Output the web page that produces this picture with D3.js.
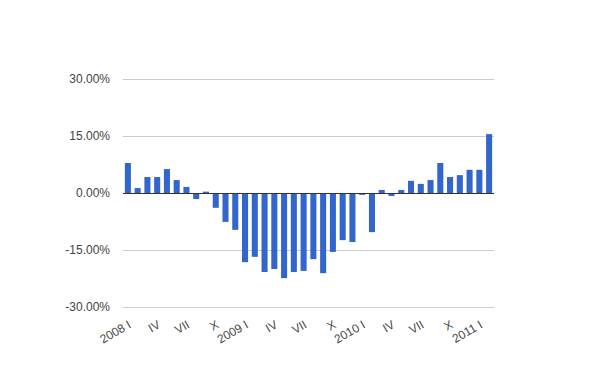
<!DOCTYPE html>
<html>
<head>
<meta charset="utf-8">
<script src="https://cdn.jsdelivr.net/npm/d3@7"></script>
<style>
  body { margin: 0; background: #fff; }
  text { font-family: Arial, "Liberation Sans", sans-serif; }
</style>
</head>
<body>
<svg id="chart" width="600" height="371"></svg>
<script>
// months 2008 I .. 2011 II
var romans = ["I","II","III","IV","V","VI","VII","VIII","IX","X","XI","XII"];
var years = [2008, 2009, 2010, 2011];
var months = [];
years.forEach(function(y){
  romans.forEach(function(r, i){
    if (y == 2011 && i > 1) return;
    months.push(y + " " + r);
  });
});

// yoy change, percent
var values = [7.9, 1.3, 4.2, 4.2, 6.3, 3.4, 1.6, -1.6, 0.35, -3.9, -7.6, -9.7,
  -18.2, -16.8, -20.8, -20.0, -22.4, -20.8, -20.5, -17.4, -21.1, -15.5, -12.4, -12.9,
  -0.5, -10.3, 0.8, -0.8, 0.8, 3.2, 2.4, 3.4, 7.9, 4.2, 4.7, 6.1, 6.1, 15.5];

var yTicks = [-30, -15, 0, 15, 30];

var svg = d3.select("#chart");

var x = d3.scaleBand()
  .domain(months)
  .range([123, 494])
  .paddingInner(0.38)
  .paddingOuter(0.19);

var y = d3.scaleLinear()
  .domain([-30, 30])
  .range([307, 79]);

// gridlines
svg.append("g")
  .selectAll("line")
  .data(yTicks)
  .enter()
  .append("line")
    .attr("x1", 123)
    .attr("x2", 494)
    .attr("y1", function(d){ return y(d) + 0.5 })
    .attr("y2", function(d){ return y(d) + 0.5 })
    .attr("stroke", "#cccccc")
    .attr("stroke-width", 1)

// y labels (plain hyphen for negatives)
var fmt = d3.formatLocale({decimal: ".", thousands: ",", grouping: [3], currency: ["", ""], minus: "-"}).format(".2f");
svg.append("g")
  .selectAll("text")
  .data(yTicks)
  .enter()
  .append("text")
    .attr("x", 110)
    .attr("y", function(d){ return y(d) })
    .attr("dy", "0.35em")
    .attr("text-anchor", "end")
    .attr("font-size", 12)
    .attr("fill", "#444")
    .text(function(d){ return fmt(d) + "%" })

// bars
svg.append("g")
  .selectAll("rect")
  .data(values)
  .enter()
  .append("rect")
    .attr("x", function(d, i){ return x(months[i]) })
    .attr("width", x.bandwidth())
    .attr("y", function(d){ return y(Math.max(0, d)) })
    .attr("height", function(d){ return Math.abs(y(d) - y(0)) })
    .attr("fill", "#3366cc")

// zero line
svg.append("line")
  .attr("x1", 123)
  .attr("x2", 494)
  .attr("y1", y(0) + 0.5)
  .attr("y2", y(0) + 0.5)
  .attr("stroke", "#333")
  .attr("stroke-width", 1)

// x labels, every third month
var shown = months.filter(function(d, i){ return i % 3 == 0 });
svg.append("g")
  .selectAll("text")
  .data(shown)
  .enter()
  .append("text")
    .attr("text-anchor", "end")
    .attr("font-size", 12)
    .attr("fill", "#444")
    .attr("transform", function(d){
      var cx = x(d) + x.bandwidth() / 2 + 4;
      return "translate(" + cx + ",327) rotate(-30)";
    })
    .text(function(d){
      var p = d.split(" ");
      return p[1] == "I" ? d : p[1];
    })
</script>
</body>
</html>
